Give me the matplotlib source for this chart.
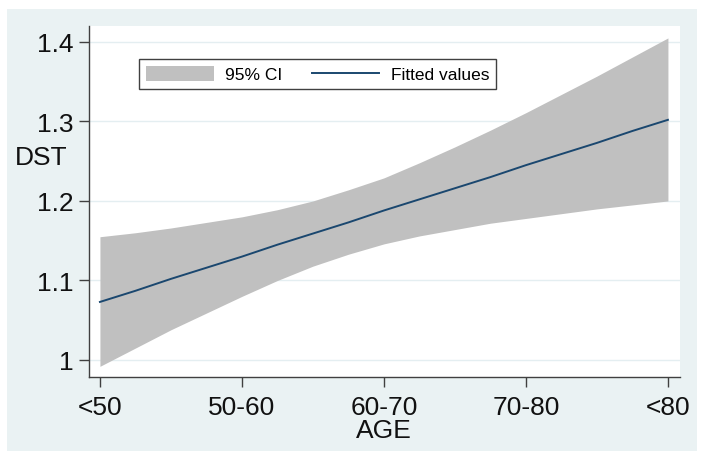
import matplotlib
matplotlib.use("Agg")
import matplotlib.pyplot as plt
from matplotlib.patches import Rectangle, Patch
from matplotlib.lines import Line2D

plt.rcParams['font.family'] = ['Liberation Sans', 'DejaVu Sans']

# Data
categories = ["<50", "50-60", "60-70", "70-80", "<80"]
x_pos = [0, 0.25, 0.5, 0.75, 1, 1.25, 1.5, 1.75, 2, 2.25, 2.5, 2.75, 3, 3.25, 3.5, 3.75, 4]
fitted = [1.073, 1.087, 1.102, 1.116, 1.130, 1.145, 1.159, 1.173, 1.188,
          1.202, 1.216, 1.230, 1.245, 1.259, 1.273, 1.288, 1.302]
ci_upper = [1.155, 1.160, 1.166, 1.173, 1.180, 1.189, 1.200, 1.214, 1.229,
            1.248, 1.268, 1.289, 1.311, 1.334, 1.357, 1.381, 1.405]
ci_lower = [0.992, 1.015, 1.038, 1.059, 1.080, 1.100, 1.118, 1.133, 1.146,
            1.156, 1.164, 1.172, 1.178, 1.184, 1.190, 1.195, 1.200]
y_ticks = [1.0, 1.1, 1.2, 1.3, 1.4]
y_ticklabels = ["1", "1.1", "1.2", "1.3", "1.4"]

W, H = 707, 460
fig = plt.figure(figsize=(W / 100, H / 100), dpi=100)
fig.patch.set_facecolor("white")

bg = "#EAF2F3"
fig.patches.append(Rectangle((7 / W, 1 - 452 / H), (697 - 7) / W, (452 - 10) / H,
                             transform=fig.transFigure, facecolor=bg,
                             edgecolor="none", zorder=-10))

ax = fig.add_axes([89 / W, 1 - 378 / H, (680 - 89) / W, (378 - 27) / H])
ax.set_zorder(1)
ax.set_facecolor("white")

ax.fill_between(x_pos, ci_lower, ci_upper, color="#C0C0C0", linewidth=0, zorder=2)
ax.plot(x_pos, fitted, color="#1A476F", linewidth=1.4, zorder=3)

ax.set_xlim(-0.077, 4.085)
ax.set_ylim(0.9786, 1.42)

ax.set_yticks(y_ticks)
ax.set_yticklabels(y_ticklabels)
ax.set_xticks(range(len(categories)))
ax.set_xticklabels(categories)

for y in y_ticks:
    ax.axhline(y, color="#E4EEF1", linewidth=1.0, zorder=1)

for s in ["top", "right"]:
    ax.spines[s].set_visible(False)
for s in ["left", "bottom"]:
    ax.spines[s].set_color("#404040")
    ax.spines[s].set_linewidth(1.0)

ax.tick_params(axis="both", direction="out", length=7, width=1.0,
               color="#404040", labelsize=19, labelcolor="#111111")
ax.tick_params(axis="y", pad=4)
ax.tick_params(axis="x", pad=6)

fig.text(15 / W, 1 - 158 / H, "DST", ha="left", va="center", fontsize=19, color="#111111")
fig.text(384 / W, 1 - 431 / H, "AGE", ha="center", va="center", fontsize=19, color="#111111")

handles = [Patch(facecolor="#C0C0C0", edgecolor="none"),
           Line2D([0], [0], color="#1A476F", linewidth=1.4)]
leg = ax.legend(handles, ["95% CI", "Fitted values"], ncol=2,
                loc="center", bbox_to_anchor=(317.5 / W, 1 - 75 / H),
                bbox_transform=fig.transFigure, fontsize=12.5, frameon=True,
                fancybox=False, handlelength=3.9, handleheight=1.0,
                handletextpad=0.65, columnspacing=1.7, borderpad=0.4,
                borderaxespad=0)
leg.get_frame().set_edgecolor("#404040")
leg.get_frame().set_linewidth(1.0)
leg.get_frame().set_facecolor("white")
leg.get_frame().set_alpha(1)

fig.savefig("out.png", dpi=100, facecolor="white")
